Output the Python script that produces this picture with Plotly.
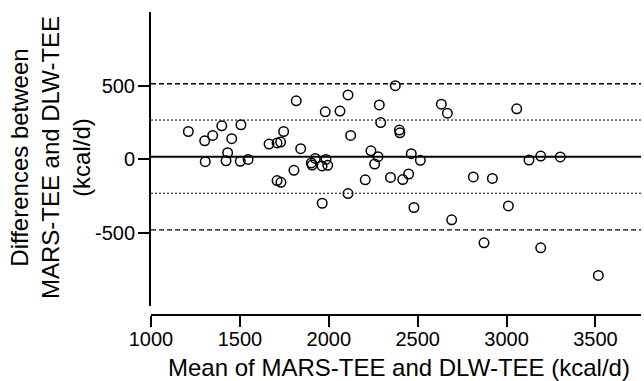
import plotly.graph_objects as go

# Bland-Altman data: mean of MARS-TEE and DLW-TEE (x) vs difference (y), kcal/d
mean_tee = [1210, 1302, 1347, 1398, 1454, 1506, 1431, 1305, 1422, 1502,
            1546, 1664, 1709, 1729, 1746, 1817, 1842, 1709, 1731, 1804,
            1902, 1906, 1924, 1962, 1984, 1994, 1963, 1980, 2063, 2108,
            2123, 2108, 2205, 2237, 2277, 2258, 2284, 2292, 2347, 2374,
            2397, 2400, 2416, 2449, 2464, 2515, 2479, 2691, 2633, 2667,
            2813, 2920, 2873, 3010, 3057, 3126, 3192, 3302, 3192, 3516]
diff_tee = [187, 124, 160, 226, 138, 233, 43, -18, -12, -16,
            -3, 102, 109, 115, 187, 396, 70, -147, -159, -77,
            -27, -41, 4, -47, -3, -43, -301, 321, 326, 436,
            160, -235, -142, 56, 16, -34, 368, 248, -125, 499,
            197, 178, -140, -102, 36, -9, -330, -414, 373, 312,
            -122, -132, -570, -319, 341, -7, 20, 14, -604, -792]

bias = 15
upper_loa = 512
lower_loa = -482
upper_sd = 265
lower_sd = -233

x_tickvals = [1000, 1500, 2000, 2500, 3000, 3500]
x_ticktext = ["1000", "1500", "2000", "2500", "3000", "3500"]
y_tickvals = [-500, 0, 500]
y_ticktext = ["-500", "0", "500"]

x_title = "Mean of MARS-TEE and DLW-TEE (kcal/d)"
y_title = "Differences between<br>MARS-TEE and DLW-TEE<br>(kcal/d)"

FONT = "Liberation Sans, Arial, Helvetica, sans-serif"

fig = go.Figure()
fig.add_trace(go.Scatter(
    x=mean_tee, y=diff_tee, mode="markers",
    marker=dict(symbol="circle-open", size=9.5, color="black",
                line=dict(width=1.5, color="black")),
    showlegend=False, hoverinfo="x+y"))

def hline(yv, dash, width):
    fig.add_shape(type="line", xref="paper", x0=0, x1=1, yref="y", y0=yv, y1=yv,
                  line=dict(color="black", width=width, dash=dash), layer="below")

hline(upper_loa, "5px,3px", 1.3)
hline(lower_loa, "5px,3px", 1.3)
hline(upper_sd, "2px,2px", 1)
hline(lower_sd, "2px,2px", 1)
hline(bias, "solid", 2)

fig.update_layout(
    width=644, height=381,
    margin=dict(l=151, r=3, t=12, b=66),
    paper_bgcolor="white", plot_bgcolor="white",
    font=dict(family=FONT, color="black", size=20),
    xaxis=dict(range=[1000, 3756], tickvals=x_tickvals, ticktext=x_ticktext,
               anchor="free", position=0,
               showline=True, linewidth=2, linecolor="black",
               ticks="outside", ticklen=11, tickwidth=2, tickcolor="black",
               ticklabelstandoff=-5,
               showgrid=False, zeroline=False,
               tickfont=dict(size=20, family=FONT, color="black")),
    yaxis=dict(range=[-1000, 1000], tickvals=y_tickvals, ticktext=y_ticktext,
               domain=[0.0297, 1],
               showline=True, linewidth=2, linecolor="black",
               ticks="outside", ticklen=11, tickwidth=2, tickcolor="black",
               ticklabelstandoff=-1,
               showgrid=False, zeroline=False,
               tickfont=dict(size=20, family=FONT, color="black")),
    annotations=[
        dict(text=x_title, xref="paper", yref="paper", x=0.507, y=-0.172,
             xanchor="center", yanchor="middle", showarrow=False,
             font=dict(size=24, family=FONT, color="black")),
        dict(text=y_title, xref="paper", yref="paper", x=-0.206, y=0.518,
             xanchor="center", yanchor="middle", showarrow=False, textangle=-90,
             font=dict(size=24, family=FONT, color="black")),
    ],
)

fig.write_html("out.html")
